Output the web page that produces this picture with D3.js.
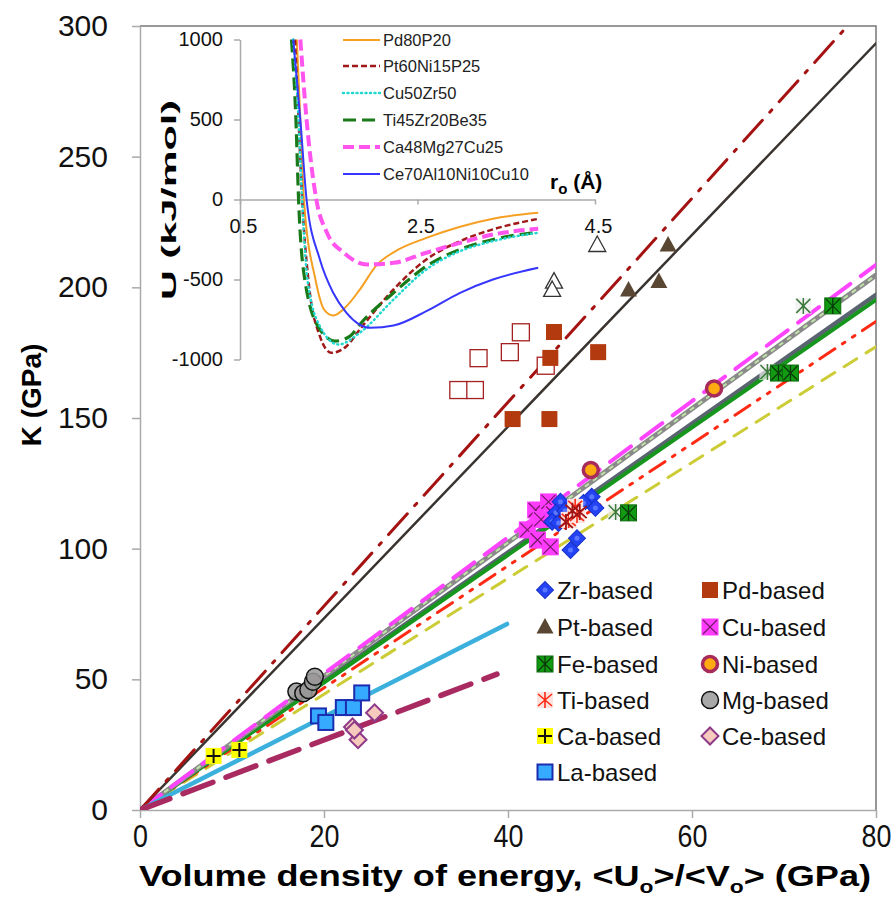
<!DOCTYPE html>
<html>
<head>
<meta charset="utf-8">
<script src="https://cdn.jsdelivr.net/npm/d3@7"></script>
<style>
  body { margin: 0; background: #fff; }
  svg { display: block; font-family: Arial, "Liberation Sans", sans-serif; }
</style>
</head>
<body>
<div id="chart-area"></div>
<script>
// main chart data: [energy density (GPa), K (GPa)]
const zrPoints = [[49.1,119.9],[49.5,115.6],[45.7,118],[45.2,113.7],[44.8,110.3],[47.5,104],[46.8,99.5],[45.5,109.8],[48.2,117.5],[46.2,114.5]];
const ptPoints = [[57.4,216.2],[53.1,199],[56.4,202.2]];
const ptOpenPoints = [[49.7,216.2],[45.0,202.2],[44.8,199]];
const pdPoints = [[45.0,182.9],[44.6,173],[49.8,175.2],[40.5,149.6],[44.5,149.6]];
const pdOpenPoints = [[41.4,182.8],[40.2,175.2],[36.8,172.9],[44.1,170],[36.4,160.7],[34.6,160.7]];
const cuPoints = [[43.0,114.8],[44.4,117.9],[42.1,107.2],[43.2,103.3],[44.6,100.7],[43.6,111.2],[44.9,113.5]];
const fePoints = [[75.3,192.9],[69.4,167.2],[70.7,167.2],[53.1,113.7]];
const feOpenPoints = [[72.1,192.9],[68.2,167.6],[51.7,114]];
const niPoints = [[62.4,161.3],[49.0,130.1]];
const tiPoints = [[47.3,116],[46.6,111],[47.5,112.9]];
const tiDarkPoints = [[47.0,114.5],[46.3,110.2],[47.8,114]];
const mgPoints = [[17.0,45.3],[17.75,44.7],[18.3,45.9],[18.8,49.1],[19.0,51.0]];
const caPoints = [[8.0,20.7],[10.8,23.0]];
const laPoints = [[19.4,36.0],[20.2,33.5],[22.1,39.2],[23.2,39.2],[24.1,44.8]];
const cePoints = [[23.1,31.8],[23.7,26.9],[25.5,37.2],[23.3,30.6]];

// fitted lines through the origin, end points
const fitEndX = [76.9, 80, 80, 80, 80, 80, 80, 80, 39.9, 38.8];
const fitEndK = [300, 293.4, 208.6, 204.7, 197.1, 195.2, 186.9, 177.3, 71.2, 52.0];

const xTicks = [0, 20, 40, 60, 80];
const yTicks = [0, 50, 100, 150, 200, 250, 300];

const legendLeft = ["Zr-based", "Pt-based", "Fe-based", "Ti-based", "Ca-based", "La-based"];
const legendRight = ["Pd-based", "Cu-based", "Ni-based", "Mg-based", "Ce-based"];

// inset: potential curves U(r)
const insetNames = ["Pd80P20", "Pt60Ni15P25", "Cu50Zr50", "Ti45Zr20Be35", "Ca48Mg27Cu25", "Ce70Al10Ni10Cu10"];
const rPd = [1.14,1.18,1.22,1.35,1.45,1.55,1.70,1.85,2.04,2.23,2.60,2.98,3.35,3.86];
const uPd = [1000,500,0,-500,-690,-725,-667,-563,-410,-330,-240,-170,-120,-83];
const rPt = [1.12,1.16,1.20,1.27,1.40,1.53,1.70,1.85,2.23,2.60,2.98,3.35,3.86];
const uPt = [1000,500,0,-500,-854,-958,-917,-812,-562,-375,-260,-187,-121];
const rCu = [1.10,1.16,1.20,1.26,1.40,1.61,1.85,2.23,2.60,2.98,3.35,3.86];
const uCu = [1000,500,0,-500,-792,-906,-833,-625,-437,-323,-260,-208];
const rTi = [1.08,1.13,1.16,1.23,1.40,1.57,1.74,1.85,2.23,2.60,2.98,3.35,3.86];
const uTi = [1000,500,0,-500,-812,-885,-854,-781,-583,-417,-312,-250,-204];
const rCa = [1.18,1.25,1.36,1.48,1.67,1.93,2.23,2.60,2.98,3.35,3.86];
const uCa = [1000,500,0,-208,-333,-406,-396,-333,-271,-219,-183];
const rCe = [1.10,1.18,1.25,1.40,1.55,1.70,1.97,2.23,2.60,2.98,3.35,3.86];
const uCe = [1000,500,0,-375,-583,-708,-802,-788,-698,-583,-500,-427];
const insetXTicks = [0.5, 2.5, 4.5];
const insetYTicks = [-1000, -500, 0, 500, 1000];

var W = 894, H = 914;

var svg = d3.select("#chart-area")
  .append("svg")
    .attr("width", W)
    .attr("height", H);

const x = d3.scaleLinear().domain([0, 80]).range([140, 876]);
const y = d3.scaleLinear().domain([0, 300]).range([810, 26]);

svg.append("clipPath").attr("id", "plotclip")
  .append("rect")
    .attr("x", 140).attr("y", 26)
    .attr("width", 736).attr("height", 784);

// frame top / right
svg.append("path")
  .attr("d", "M140,26H876V810")
  .attr("fill", "none")
  .attr("stroke", "#777")
  .attr("stroke-width", 1.5);

// axes
const yAxisG = svg.append("g")
  .attr("transform", "translate(140,0)")
  .call(d3.axisLeft(y).tickValues(yTicks).tickSize(8).tickSizeOuter(0).tickPadding(24));
const xAxisG = svg.append("g")
  .attr("transform", "translate(0,810)")
  .call(d3.axisBottom(x).tickValues(xTicks).tickSize(8).tickSizeOuter(0).tickPadding(6));

[yAxisG, xAxisG].forEach(function(g) {
  g.select(".domain").attr("stroke", "#aaa").attr("stroke-width", 1.5);
  g.selectAll(".tick line").attr("stroke", "#aaa").attr("stroke-width", 1.5);
  g.selectAll(".tick text")
    .attr("fill", "#111")
    .attr("font-size", "30px")
    .attr("font-family", "Arial, 'Liberation Sans', sans-serif");
});
xAxisG.selectAll(".tick text")
  .attr("font-size", "32px")
  .attr("transform", "scale(0.84,1)");

// axis titles
svg.append("text")
  .attr("x", 505)
  .attr("y", 886)
  .attr("text-anchor", "middle")
  .attr("font-weight", "bold")
  .attr("font-size", "30px")
  .attr("textLength", 732)
  .attr("lengthAdjust", "spacingAndGlyphs")
  .html('Volume density of energy, &lt;U<tspan font-size="19px" dy="7">o</tspan><tspan dy="-7">&gt;/&lt;V</tspan><tspan font-size="19px" dy="7">o</tspan><tspan dy="-7">&gt; (GPa)</tspan>');

svg.append("text")
  .attr("transform", "translate(41,395) rotate(-90)")
  .attr("text-anchor", "middle")
  .attr("font-weight", "bold")
  .attr("font-size", "28px")
  .text("K (GPa)");

// fitted lines
const fitStyles = [
  { color: "#a51212", width: 3, dash: "28,11,3,11" },
  { color: "#3a3430", width: 2.5, dash: null },
  { color: "#ff44ff", width: 4, dash: "26,13" },
  { color: "#8a8a8a", width: 5, dash: null, inner: "#c0e4a8" },
  { color: "#5a6470", width: 4.5, dash: null },
  { color: "#16961c", width: 4, dash: null },
  { color: "#ff2a14", width: 3, dash: "18,9,3,9,3,9" },
  { color: "#cccc36", width: 3, dash: "15,11" },
  { color: "#3cb0dc", width: 4.5, dash: null },
  { color: "#a82a60", width: 5.5, dash: "32,14" }
];
const drawOrder = [7, 6, 4, 5, 3, 2, 1, 0, 8, 9];

const linesG = svg.append("g").attr("clip-path", "url(#plotclip)");
drawOrder.forEach(function(i) {
  const s = fitStyles[i];
  const seg = linesG.append("line")
    .attr("x1", x(0)).attr("y1", y(0))
    .attr("x2", x(fitEndX[i])).attr("y2", y(fitEndK[i]))
    .attr("stroke", s.color)
    .attr("stroke-width", s.width)
    .attr("stroke-linecap", "round");
  if (s.dash) seg.attr("stroke-dasharray", s.dash);
  if (s.inner) {
    linesG.append("line")
      .attr("x1", x(0)).attr("y1", y(0))
      .attr("x2", x(fitEndX[i])).attr("y2", y(fitEndK[i]))
      .attr("stroke", s.inner)
      .attr("stroke-width", 2)
      .attr("stroke-dasharray", "5,5");
  }
});

// markers
function drawMarker(g, type) {
  if (type === "zr") {
    g.append("rect").attr("x", -6).attr("y", -6).attr("width", 12).attr("height", 12)
      .attr("transform", "rotate(45)")
      .attr("fill", "#2443f5").attr("stroke", "#1530c8").attr("stroke-width", 1);
    g.append("circle").attr("r", 2.5).attr("fill", "#5a78ff");
  } else if (type === "pt") {
    g.append("path").attr("d", "M0,-9L8.5,6.5L-8.5,6.5Z").attr("fill", "#5a4733");
  } else if (type === "ptOpen") {
    g.append("path").attr("d", "M0,-9L8.5,6.5L-8.5,6.5Z")
      .attr("fill", "#fff").attr("stroke", "#333").attr("stroke-width", 1.3);
  } else if (type === "pd") {
    g.append("rect").attr("x", -8).attr("y", -8).attr("width", 16).attr("height", 16)
      .attr("fill", "#b23a0e");
  } else if (type === "pdOpen") {
    g.append("rect").attr("x", -8.5).attr("y", -8.5).attr("width", 17).attr("height", 17)
      .attr("fill", "#fff").attr("stroke", "#a52020").attr("stroke-width", 1.3);
  } else if (type === "cu") {
    g.append("rect").attr("x", -8.5).attr("y", -8.5).attr("width", 17).attr("height", 17)
      .attr("fill", "#ff3cff");
    g.append("path").attr("d", "M-7,-7L7,7M7,-7L-7,7")
      .attr("stroke", "#7a1a6a").attr("stroke-width", 1.3);
  } else if (type === "fe") {
    g.append("rect").attr("x", -8).attr("y", -8).attr("width", 16).attr("height", 16)
      .attr("fill", "#129a12").attr("stroke", "#0a6a0a").attr("stroke-width", 1);
    g.append("path").attr("d", "M-7,-7L7,7M7,-7L-7,7M0,-8V8")
      .attr("stroke", "#0a3a0a").attr("stroke-width", 1.3);
  } else if (type === "feOpen") {
    g.append("rect").attr("x", -8).attr("y", -8).attr("width", 16).attr("height", 16)
      .attr("fill", "#eeeeee").attr("opacity", 0.7);
    g.append("path").attr("d", "M-7,-7L7,7M7,-7L-7,7M0,-8V8")
      .attr("stroke", "#3c7a3c").attr("stroke-width", 1.5);
  } else if (type === "ti") {
    g.append("rect").attr("x", -8).attr("y", -8).attr("width", 16).attr("height", 16)
      .attr("fill", "#fde2de");
    g.append("path").attr("d", "M-7,-6L7,6M7,-6L-7,6M0,-8V8")
      .attr("stroke", "#ff2a14").attr("stroke-width", 1.6);
  } else if (type === "tiDark") {
    g.append("path").attr("d", "M-7,-6L7,6M7,-6L-7,6M0,-8V8")
      .attr("stroke", "#a01414").attr("stroke-width", 1.8);
  } else if (type === "ni") {
    g.append("circle").attr("r", 7.5)
      .attr("fill", "#ffaa10").attr("stroke", "#a82a5a").attr("stroke-width", 3.5);
  } else if (type === "mg") {
    g.append("circle").attr("r", 8.5)
      .attr("fill", "#999").attr("fill-opacity", 0.85)
      .attr("stroke", "#111").attr("stroke-width", 1.5);
  } else if (type === "ca") {
    g.append("rect").attr("x", -8).attr("y", -8).attr("width", 16).attr("height", 16)
      .attr("fill", "#ffff00");
    g.append("path").attr("d", "M-7,0H7M0,-7V7")
      .attr("stroke", "#111").attr("stroke-width", 2);
  } else if (type === "la") {
    g.append("rect").attr("x", -7.5).attr("y", -7.5).attr("width", 15).attr("height", 15)
      .attr("fill", "#36aaff").attr("stroke", "#1c2cb0").attr("stroke-width", 2);
  } else if (type === "ce") {
    g.append("rect").attr("x", -6).attr("y", -6).attr("width", 12).attr("height", 12)
      .attr("transform", "rotate(45)")
      .attr("fill", "#f6cabc").attr("stroke", "#8e3a8a").attr("stroke-width", 2);
  }
}

const seriesList = [
  [ptOpenPoints, "ptOpen"], [pdOpenPoints, "pdOpen"], [ptPoints, "pt"], [pdPoints, "pd"],
  [feOpenPoints, "feOpen"], [fePoints, "fe"], [niPoints, "ni"],
  [cuPoints, "cu"], [zrPoints, "zr"], [tiPoints, "ti"], [tiDarkPoints, "tiDark"],
  [mgPoints, "mg"], [caPoints, "ca"], [laPoints, "la"], [cePoints, "ce"]
];

const markG = svg.append("g");
seriesList.forEach(function(s) {
  markG.selectAll(null)
    .data(s[0])
    .enter().append("g")
      .attr("transform", function(d) { return "translate(" + x(d[0]) + "," + y(d[1]) + ")"; })
      .each(function() { drawMarker(d3.select(this), s[1]); });
});

// legend
const legendTypes = ["zr", "pt", "fe", "ti", "ca", "la"];
const legendTypesR = ["pd", "cu", "ni", "mg", "ce"];
const rowY = [590, 627, 664, 700, 736, 772];

function legendColumn(names, types, mx, tx) {
  names.forEach(function(name, i) {
    const g = svg.append("g").attr("transform", "translate(" + mx + "," + rowY[i] + ")");
    drawMarker(g, types[i]);
    svg.append("text")
      .attr("x", tx).attr("y", rowY[i])
      .attr("dy", "0.36em")
      .attr("font-size", "24px")
      .attr("fill", "#111")
      .text(name);
  });
}
legendColumn(legendLeft, legendTypes, 545, 557);
legendColumn(legendRight, legendTypesR, 710, 722);

// ---------------- inset ----------------
const xi = d3.scaleLinear().domain([0.5, 4.5]).range([240, 595]);
const yi = d3.scaleLinear().domain([-1000, 1000]).range([359.5, 39.5]);

const inset = svg.append("g");

const iyAxis = inset.append("g")
  .attr("transform", "translate(240,0)")
  .call(d3.axisLeft(yi).tickValues(insetYTicks).tickFormat(function(d) { return String(d); })
    .tickSize(6).tickSizeOuter(0).tickPadding(11));
const ixAxis = inset.append("g")
  .attr("transform", "translate(0," + yi(0) + ")")
  .call(d3.axisBottom(xi).tickValues(insetXTicks).tickFormat(d3.format(".1f"))
    .tickSize(5).tickSizeOuter(0).tickPadding(14));

[iyAxis, ixAxis].forEach(function(g) {
  g.select(".domain").attr("stroke", "#aaa").attr("stroke-width", 1.5);
  g.selectAll(".tick line").attr("stroke", "#aaa").attr("stroke-width", 1.5);
  g.selectAll(".tick text")
    .attr("fill", "#111")
    .attr("font-size", "20px")
    .attr("font-family", "Arial, 'Liberation Sans', sans-serif");
});
ixAxis.selectAll(".tick text").attr("dx", 3);

inset.append("text")
  .attr("transform", "translate(176,200) rotate(-90)")
  .attr("text-anchor", "middle")
  .attr("font-weight", "bold")
  .attr("font-size", "21px")
  .attr("textLength", 200)
  .attr("lengthAdjust", "spacingAndGlyphs")
  .text("U (kJ/mol)");

inset.append("text")
  .attr("x", 550).attr("y", 189)
  .attr("font-weight", "bold")
  .attr("font-size", "21px")
  .html('r<tspan font-size="15px" dy="5">o</tspan><tspan dy="-5"> (Å)</tspan>');

const insetR = [rPd, rPt, rCu, rTi, rCa, rCe];
const insetU = [uPd, uPt, uCu, uTi, uCa, uCe];
const insetStyles = [
  { color: "#f5a023", width: 2, dash: null },
  { color: "#a01818", width: 2.5, dash: "6,3" },
  { color: "#22d8d0", width: 2.5, dash: "1,3.5" },
  { color: "#1a7a1a", width: 3.2, dash: "13,6" },
  { color: "#ff55ee", width: 4, dash: "11,5" },
  { color: "#3636ff", width: 2, dash: null }
];
const insetOrder = [0, 1, 3, 2, 4, 5];

const curve = d3.line()
  .x(function(d) { return xi(d[0]); })
  .y(function(d) { return yi(d[1]); })
  .curve(d3.curveMonotoneX);

insetOrder.forEach(function(i) {
  const pts = insetR[i].map(function(r, k) { return [r, insetU[i][k]]; });
  const s = insetStyles[i];
  inset.append("path")
    .datum(pts)
    .attr("d", curve)
    .attr("fill", "none")
    .attr("stroke", s.color)
    .attr("stroke-width", s.width)
    .attr("stroke-linecap", s.dash === "1,3.5" ? "round" : "butt")
    .attr("stroke-dasharray", s.dash);
});

// inset legend
const insetRowY = [40, 66, 93, 120, 147, 174];
insetNames.forEach(function(name, i) {
  const s = insetStyles[i];
  inset.append("line")
    .attr("x1", 343).attr("x2", 380)
    .attr("y1", insetRowY[i]).attr("y2", insetRowY[i])
    .attr("stroke", s.color)
    .attr("stroke-width", s.width)
    .attr("stroke-linecap", s.dash === "1,3.5" ? "round" : "butt")
    .attr("stroke-dasharray", s.dash);
  inset.append("text")
    .attr("x", 383).attr("y", insetRowY[i])
    .attr("dy", "0.36em")
    .attr("font-size", "16.5px")
    .attr("fill", "#222")
    .text(name);
});
</script>
</body>
</html>
